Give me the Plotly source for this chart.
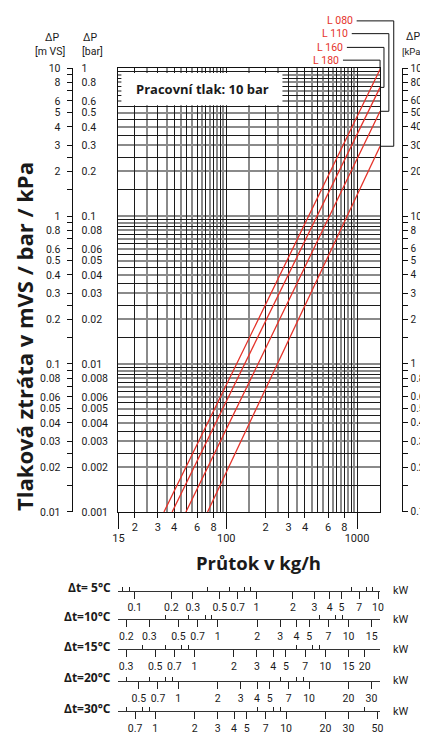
import math
import plotly.graph_objects as go

# ---------------- data ----------------
series_names = ["L 180", "L 160", "L 110", "L 080"]
flow_L180 = [33.4, 120, 1500]
dp_L180 = [0.01, 0.1, 9.8]
flow_L160 = [38.6, 138, 1500]
dp_L160 = [0.01, 0.1, 7.4]
flow_L110 = [49.2, 175, 1500]
dp_L110 = [0.01, 0.1, 5.1]
flow_L080 = [72, 246, 1500]
dp_L080 = [0.01, 0.1, 2.96]

flow_range = [15, 1500]
dp_range_mvs = [0.01, 10]

x_small_vals = [20, 30, 40, 60, 80, 200, 300, 400, 600, 800]
x_small_text = ["2", "3", "4", "6", "8", "2", "3", "4", "6", "8"]
x_big_vals = [15, 100, 1000]
x_big_text = ["15", "100", "1000"]

mvs_labels = [10, 8, 6, 5, 4, 3, 2, 1, 0.8, 0.6, 0.5, 0.4, 0.3, 0.2, 0.1,
              0.08, 0.06, 0.05, 0.04, 0.03, 0.02, 0.01]
mvs_text = ["10", "8", "6", "5", "4", "3", "2", "1", "0.8", "0.6", "0.5", "0.4", "0.3", "0.2",
            "0.1", "0.08", "0.06", "0.05", "0.04", "0.03", "0.02", "0.01"]
mvs_minor = [9, 7, 2.5, 1.5, 0.9, 0.7, 0.25, 0.15, 0.09, 0.07, 0.025, 0.015]
bar_labels = [1, 0.8, 0.6, 0.5, 0.4, 0.3, 0.2, 0.1, 0.08, 0.06, 0.05, 0.04, 0.03, 0.02,
              0.01, 0.008, 0.006, 0.005, 0.004, 0.003, 0.002, 0.001]
bar_text = ["1", "0.8", "0.6", "0.5", "0.4", "0.3", "0.2", "0.1", "0.08", "0.06", "0.05",
            "0.04", "0.03", "0.02", "0.01", "0.008", "0.006", "0.005", "0.004", "0.003",
            "0.002", "0.001"]
kpa_labels = [100, 80, 60, 50, 40, 30, 20, 10, 8, 6, 5, 4, 3, 2, 1, 0.8, 0.6, 0.5, 0.4,
              0.3, 0.2, 0.1]
kpa_text = ["100", "80", "60", "50", "40", "30", "20", "10", "8", "6", "5", "4", "3", "2",
            "1", "0.8", "0.6", "0.5", "0.4", "0.3", "0.2", "0.1"]
kpa_minor = [90, 70, 25, 15, 9, 7, 2.5, 1.5, 0.9, 0.7, 0.25, 0.15]

grid_mult_int = [1, 2, 3, 4, 5, 6, 7, 8, 9]
grid_mult_half = [1.5, 2.5, 3.5, 4.5, 5.5, 6.5, 7.5, 8.5, 9.5]

row_names = ["\u0394t= 5\u00b0C", "\u0394t=10\u00b0C", "\u0394t=15\u00b0C", "\u0394t=20\u00b0C", "\u0394t=30\u00b0C"]
# kW value at the left and right end of each scale line
kw_row_ends = [
    [0.0735, 10.4],
    [0.174, 17.4],
    [0.262, 26.2],
    [0.349, 34.9],
    [0.523, 52.3],
]
kw_major = [
    [0.1, 0.2, 0.3, 0.5, 0.7, 1, 2, 3, 4, 5, 7, 10],
    [0.2, 0.3, 0.5, 0.7, 1, 2, 3, 4, 5, 7, 10, 15],
    [0.3, 0.5, 0.7, 1, 2, 3, 4, 5, 7, 10, 15, 20],
    [0.5, 0.7, 1, 2, 3, 4, 5, 7, 10, 20, 30],
    [0.7, 1, 2, 3, 4, 5, 7, 10, 20, 30, 50],
]
kw_minor = [
    [0.08, 0.09, 0.4, 0.6, 0.8, 0.9, 6, 8, 9],
    [0.4, 0.6, 0.8, 0.9, 6, 8, 9],
    [0.4, 0.6, 0.8, 0.9, 6, 8, 9],
    [0.4, 0.6, 0.8, 0.9, 6, 8, 9],
    [0.6, 0.8, 0.9, 6, 8, 9, 40],
]

# ---------------- layout geometry ----------------
# the page body has an 8 px margin: the figure is drawn 8 px in from the window corner
OFF = 8
W, H = 420, 730


def fx(p):
    return (p - OFF) / W


def fy(p):
    return 1 - (p - OFF) / H


XD = [fx(115), fx(383)]
YD = [fy(515), fy(63)]
RED = "#e5332a"
TXT = "#1a1a1a"
TICKF = dict(family="Roboto, Open Sans, sans-serif", size=10.5, color=TXT)
BOLD = "Open Sans, sans-serif"

fig = go.Figure()

lines = [(flow_L180, dp_L180), (flow_L160, dp_L160), (flow_L110, dp_L110), (flow_L080, dp_L080)]
for name, (fl, dp) in zip(series_names, lines):
    fig.add_trace(go.Scatter(x=fl, y=dp, mode="lines", name=name,
                             line=dict(color=RED, width=1.3), showlegend=False,
                             hoverinfo="skip"))


def decades(lo, hi, mults):
    out = []
    e = math.floor(math.log10(lo))
    while 10 ** e <= hi:
        for m in mults:
            v = m * 10 ** e
            if lo - 1e-9 <= v <= hi + 1e-9:
                out.append(v)
        e += 1
    return out


gx_int = decades(15, 1000, grid_mult_int)
gx_half = decades(15, 1000, grid_mult_half)
gy_int = decades(0.01, 10, grid_mult_int)
gy_half = decades(0.01, 10, grid_mult_half)

lg = math.log10
xr = [lg(flow_range[0]), lg(flow_range[1])]
yr = [lg(dp_range_mvs[0]), lg(dp_range_mvs[1])]

layout = dict(
    width=W, height=H,
    margin=dict(l=0, r=0, t=0, b=0),
    paper_bgcolor="white", plot_bgcolor="white",
    showlegend=False,
    xaxis=dict(type="log", range=xr, domain=XD, anchor="y",
               tickmode="array", tickvals=gx_int, showticklabels=False, ticks="",
               showgrid=True, gridcolor="#1c1c1c", gridwidth=1,
               minor=dict(tickmode="array", tickvals=gx_half, showgrid=True,
                          gridcolor="#8a8a8a", gridwidth=1.6, ticks=""),
               showline=True, mirror=True, linecolor="#111", linewidth=1.3, zeroline=False),
    yaxis=dict(type="log", range=yr, domain=YD, anchor="x",
               tickmode="array", tickvals=gy_half, showticklabels=False, ticks="",
               showgrid=True, gridcolor="#1c1c1c", gridwidth=1,
               minor=dict(tickmode="array", tickvals=gy_int, showgrid=True,
                          gridcolor="#8a8a8a", gridwidth=1.6, ticks=""),
               showline=True, mirror=True, linecolor="#111", linewidth=1.3, zeroline=False),
    # bottom tick labels of the flow axis
    xaxis2=dict(type="log", range=xr, domain=XD, overlaying="x", anchor="free", position=YD[0],
                side="bottom", tickmode="array", tickvals=x_small_vals, ticktext=x_small_text,
                ticks="outside", ticklen=5, tickwidth=1, tickcolor="#111",
                showgrid=False, showline=False, zeroline=False, tickfont=dict(TICKF, size=11)),
    xaxis3=dict(type="log", range=xr, domain=XD, overlaying="x", anchor="free", position=YD[0],
                side="bottom", tickmode="array", tickvals=x_big_vals, ticktext=x_big_text,
                ticks="outside", ticklen=16, tickwidth=1, tickcolor="#111",
                showgrid=False, showline=False, zeroline=False, tickfont=dict(TICKF, size=11)),
    # left mVS axis
    yaxis2=dict(type="log", range=yr, domain=YD, overlaying="y", anchor="free", position=fx(67),
                side="left", tickmode="array", tickvals=mvs_labels + mvs_minor,
                ticktext=mvs_text + [""] * len(mvs_minor),
                ticks="outside", ticklen=5, tickwidth=1, tickcolor="#111", ticklabelstandoff=4,
                showline=True, linecolor="#111", linewidth=1, showgrid=False, zeroline=False,
                tickfont=TICKF),
    # bar labels
    yaxis3=dict(type="log", range=[lg(1e-3), lg(1)], domain=YD, overlaying="y", anchor="free",
                position=fx(67), side="right", tickmode="array", tickvals=bar_labels,
                ticktext=bar_text, ticks="", ticklabelstandoff=9,
                showline=False, showgrid=False, zeroline=False, tickfont=TICKF),
    # right kPa axis
    yaxis4=dict(type="log", range=[lg(0.1), lg(100)], domain=YD, overlaying="y", anchor="free",
                position=fx(405), side="right", tickmode="array", tickvals=kpa_labels + kpa_minor,
                ticktext=kpa_text + [""] * len(kpa_minor),
                ticks="outside", ticklen=5, tickwidth=1, tickcolor="#111", ticklabelstandoff=1,
                showline=True, linecolor="#111", linewidth=1, showgrid=False, zeroline=False,
                tickfont=dict(TICKF, size=10)),
)

# invisible helpers so every overlay axis has a subplot
for ax in ["x2", "x3"]:
    fig.add_trace(go.Scatter(x=[flow_range[0]], y=[dp_range_mvs[0]], xaxis=ax, yaxis="y",
                             mode="markers", marker=dict(opacity=0), hoverinfo="skip"))
for ax, yv in [("y2", mvs_labels[0]), ("y3", bar_labels[0]), ("y4", kpa_labels[0])]:
    fig.add_trace(go.Scatter(x=[flow_range[0]], y=[yv], xaxis="x", yaxis=ax,
                             mode="markers", marker=dict(opacity=0), hoverinfo="skip"))

# kW scales
row_line_y = [595, 624, 655, 687, 718]
row_x = [115, 385]
annotations = []
for i in range(len(row_names)):
    lo, hi = kw_row_ends[i]
    axname = "xaxis%d" % (4 + i)
    layout[axname] = dict(
        type="log", range=[lg(lo), lg(hi)], domain=[fx(row_x[0]), fx(row_x[1])],
        overlaying="x", anchor="free",
        position=fy(row_line_y[i]), side="bottom", tickmode="array",
        tickvals=kw_major[i], ticktext=[("%g" % v) for v in kw_major[i]],
        ticks="outside", ticklen=7, tickwidth=1, tickcolor="#222",
        minor=dict(tickmode="array", tickvals=kw_minor[i], ticks="inside", ticklen=4,
                   tickwidth=1, tickcolor="#222", showgrid=False),
        showline=True, linecolor="#333", linewidth=1, showgrid=False, zeroline=False,
        tickfont=TICKF, ticklabelstandoff=0)
    fig.add_trace(go.Scatter(x=[kw_major[i][0]], y=[dp_range_mvs[0]], xaxis="x%d" % (4 + i),
                             yaxis="y", mode="markers", marker=dict(opacity=0),
                             hoverinfo="skip"))
    annotations.append(dict(x=fx(109), y=fy(row_line_y[i] - 3), xref="paper", yref="paper",
                            text="<b>%s</b>" % row_names[i], showarrow=False, xanchor="right",
                            yanchor="middle", font=dict(family=BOLD, size=12, color=TXT)))
    annotations.append(dict(x=fx(394), y=fy(row_line_y[i]), xref="paper", yref="paper",
                            text="kW", showarrow=False, xanchor="left", yanchor="middle",
                            font=dict(TICKF, size=11)))

# headers
for (xp, yp, txt, anc, sz) in [(47, 32, "\u0394P", "center", 10.5),
                               (45, 46, "[m VS]", "center", 10.5),
                               (86, 32, "\u0394P", "center", 10.5),
                               (88, 46, "[bar]", "center", 10.5),
                               (407, 31, "\u0394P", "left", 10.5),
                               (403, 46, "[kPa]", "left", 9.5)]:
    annotations.append(dict(x=fx(xp), y=fy(yp), xref="paper", yref="paper", text=txt,
                            showarrow=False, xanchor=anc, yanchor="middle",
                            font=dict(TICKF, size=sz)))

# titles
annotations.append(dict(x=fx(18), y=fy(336), xref="paper", yref="paper",
                        text="<b>Tlaková ztráta v mVS / bar / kPa</b>", textangle=-90,
                        showarrow=False, xanchor="center", yanchor="middle",
                        font=dict(family=BOLD, size=22, color=TXT)))
annotations.append(dict(x=fx(258), y=fy(566), xref="paper", yref="paper",
                        text="<b>Průtok v kg/h</b>", showarrow=False, xanchor="center",
                        yanchor="middle", font=dict(family=BOLD, size=18.5, color=TXT)))
annotations.append(dict(x=fx(201), y=fy(84), xref="paper", yref="paper",
                        text="<b>Pracovní tlak: 10 bar</b>", showarrow=False, xanchor="center",
                        yanchor="middle", font=dict(family=BOLD, size=13, color=TXT)))

shapes = [dict(type="rect", xref="paper", yref="paper", x0=fx(118), x1=fx(283),
               y0=fy(101), y1=fy(68), fillcolor="white", line=dict(width=0), layer="above")]

# legend labels with leader lines
label_y = {"L 080": 15, "L 110": 28, "L 160": 42, "L 180": 55}
label_end = {"L 080": 357, "L 110": 352, "L 160": 347, "L 180": 343}
bracket_x = {"L 080": 397, "L 110": 392, "L 160": 387, "L 180": 383}
end_vals = {"L 180": dp_L180[-1], "L 160": dp_L160[-1], "L 110": dp_L110[-1], "L 080": dp_L080[-1]}
LC = dict(color="#111", width=1)
for name in series_names:
    ly = label_y[name]
    annotations.append(dict(x=fx(label_end[name]), y=fy(ly), xref="paper", yref="paper",
                            text=name, showarrow=False, xanchor="right", yanchor="middle",
                            font=dict(TICKF, size=10.5, color=RED)))
    bx = fx(bracket_x[name])
    shapes.append(dict(type="line", xref="paper", yref="paper", x0=fx(label_end[name] + 2),
                       x1=bx, y0=fy(ly), y1=fy(ly), line=LC))
    shapes.append(dict(type="line", xref="paper", yref="paper", x0=bx, x1=bx,
                       y0=fy(ly), y1=YD[1], line=LC))
    shapes.append(dict(type="line", xref="paper", yref="y", x0=bx, x1=bx,
                       y0=dp_range_mvs[1], y1=end_vals[name], line=LC))
    shapes.append(dict(type="line", xref="paper", yref="y", x0=XD[1], x1=bx,
                       y0=end_vals[name], y1=end_vals[name], line=LC))

layout["annotations"] = annotations
layout["shapes"] = shapes
fig.update_layout(**layout)
fig.write_html("out.html")
